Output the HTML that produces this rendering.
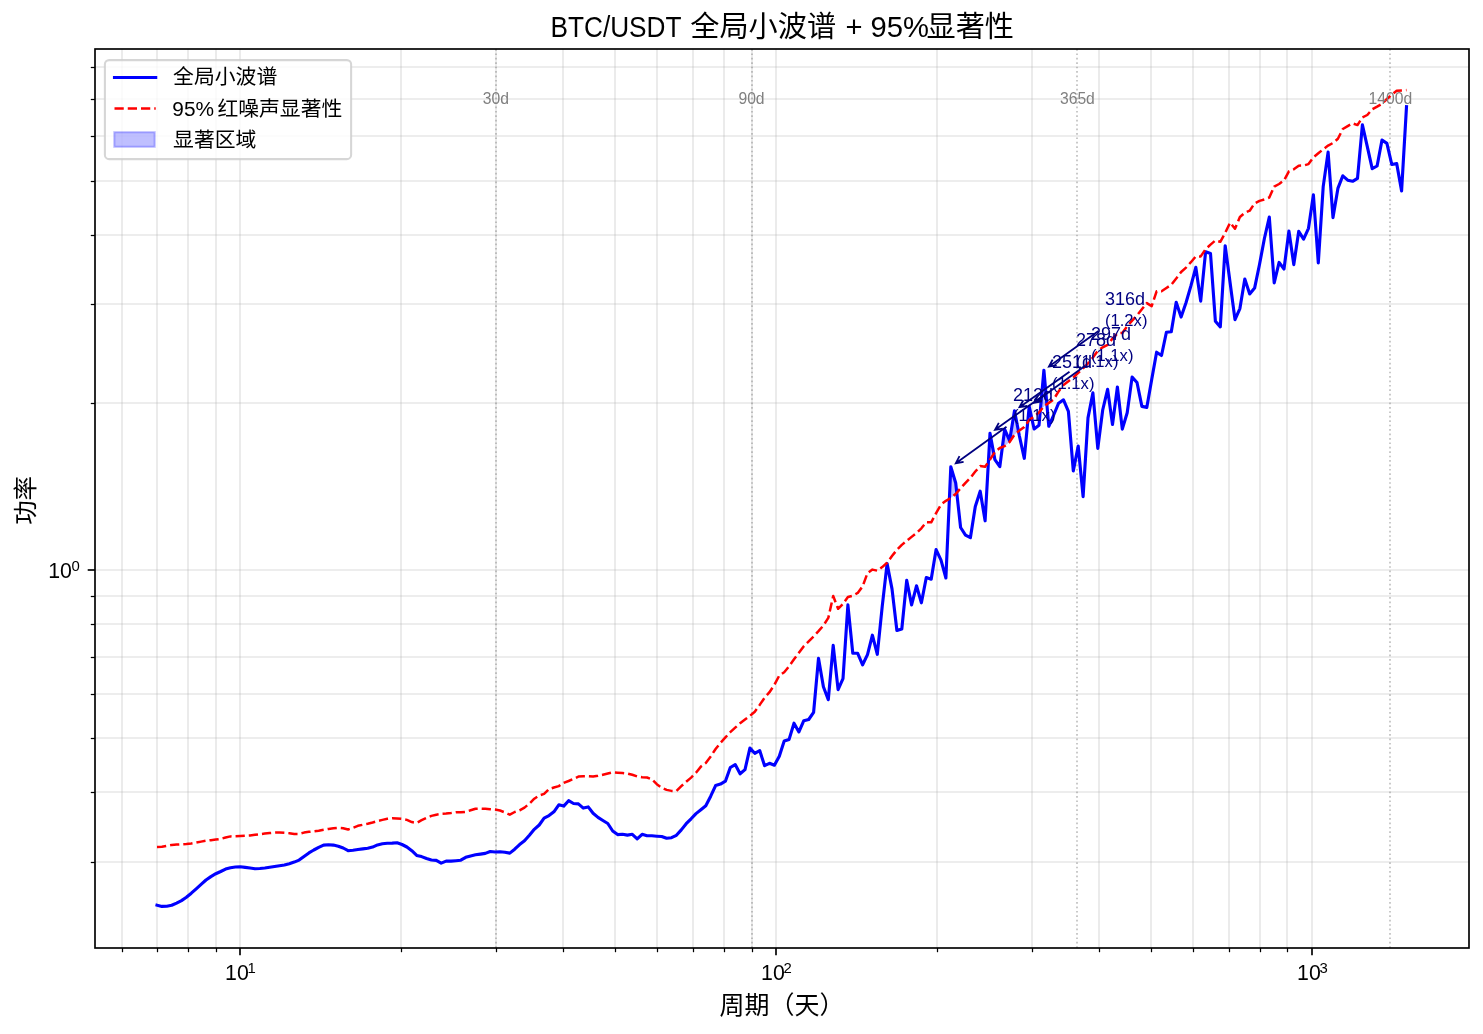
<!DOCTYPE html>
<html lang="zh-CN"><head><meta charset="utf-8"><title>BTC/USDT 全局小波谱 + 95%显著性</title>
<style>
html,body{margin:0;padding:0;background:#fff;}
body{width:1483px;height:1034px;overflow:hidden;}
svg{display:block;will-change:transform;}
text{font-family:"Liberation Sans", "Noto Sans CJK SC", sans-serif;fill:#000;}
.grid line{stroke:#b0b0b0;stroke-opacity:0.3;stroke-width:1.67;}
.vl line{stroke:#808080;stroke-opacity:0.5;stroke-width:1.67;stroke-dasharray:1.67 2.75;}
.tk line{stroke:#000;}
.ann text{fill:#000080;font-size:18px;}
.ann path{stroke:#000080;stroke-width:1.8;fill:none;stroke-linecap:butt;stroke-linejoin:miter;}
.pl text{fill:#808080;font-size:15.7px;text-anchor:middle;}
</style></head><body>
<svg width="1483" height="1034" viewBox="0 0 1483 1034">
<rect x="0" y="0" width="1483" height="1034" fill="#fff"/>

<g class="grid">
<line x1="240.0" y1="49.0" x2="240.0" y2="948.0"/>
<line x1="776.0" y1="49.0" x2="776.0" y2="948.0"/>
<line x1="1312.0" y1="49.0" x2="1312.0" y2="948.0"/>
<line x1="122.0" y1="49.0" x2="122.0" y2="948.0"/>
<line x1="157.0" y1="49.0" x2="157.0" y2="948.0"/>
<line x1="188.0" y1="49.0" x2="188.0" y2="948.0"/>
<line x1="216.0" y1="49.0" x2="216.0" y2="948.0"/>
<line x1="401.0" y1="49.0" x2="401.0" y2="948.0"/>
<line x1="496.0" y1="49.0" x2="496.0" y2="948.0"/>
<line x1="563.0" y1="49.0" x2="563.0" y2="948.0"/>
<line x1="615.0" y1="49.0" x2="615.0" y2="948.0"/>
<line x1="657.0" y1="49.0" x2="657.0" y2="948.0"/>
<line x1="693.0" y1="49.0" x2="693.0" y2="948.0"/>
<line x1="724.0" y1="49.0" x2="724.0" y2="948.0"/>
<line x1="752.0" y1="49.0" x2="752.0" y2="948.0"/>
<line x1="937.0" y1="49.0" x2="937.0" y2="948.0"/>
<line x1="1032.0" y1="49.0" x2="1032.0" y2="948.0"/>
<line x1="1099.0" y1="49.0" x2="1099.0" y2="948.0"/>
<line x1="1151.0" y1="49.0" x2="1151.0" y2="948.0"/>
<line x1="1193.0" y1="49.0" x2="1193.0" y2="948.0"/>
<line x1="1229.0" y1="49.0" x2="1229.0" y2="948.0"/>
<line x1="1260.0" y1="49.0" x2="1260.0" y2="948.0"/>
<line x1="1287.0" y1="49.0" x2="1287.0" y2="948.0"/>
<line x1="95.0" y1="570.0" x2="1469.0" y2="570.0"/>
<line x1="95.0" y1="862.0" x2="1469.0" y2="862.0"/>
<line x1="95.0" y1="792.0" x2="1469.0" y2="792.0"/>
<line x1="95.0" y1="738.0" x2="1469.0" y2="738.0"/>
<line x1="95.0" y1="694.0" x2="1469.0" y2="694.0"/>
<line x1="95.0" y1="657.0" x2="1469.0" y2="657.0"/>
<line x1="95.0" y1="624.0" x2="1469.0" y2="624.0"/>
<line x1="95.0" y1="596.0" x2="1469.0" y2="596.0"/>
<line x1="95.0" y1="403.0" x2="1469.0" y2="403.0"/>
<line x1="95.0" y1="304.0" x2="1469.0" y2="304.0"/>
<line x1="95.0" y1="235.0" x2="1469.0" y2="235.0"/>
<line x1="95.0" y1="181.0" x2="1469.0" y2="181.0"/>
<line x1="95.0" y1="136.0" x2="1469.0" y2="136.0"/>
<line x1="95.0" y1="99.0" x2="1469.0" y2="99.0"/>
<line x1="95.0" y1="67.0" x2="1469.0" y2="67.0"/>
</g>
<g class="vl">
<line x1="496.0" y1="49.0" x2="496.0" y2="948.0"/>
<line x1="752.0" y1="49.0" x2="752.0" y2="948.0"/>
<line x1="1077.0" y1="49.0" x2="1077.0" y2="948.0"/>
<line x1="1390.0" y1="49.0" x2="1390.0" y2="948.0"/>
</g>
<g fill="#0000ff" fill-opacity="0.25" stroke="none">
<polygon points="949.4,498.8 950.8,466.8 950.8,498.0"/>
<polygon points="950.8,466.8 955.7,483.0 955.7,494.0 950.8,498.0"/>
<polygon points="955.7,483.0 956.8,492.8 955.7,494.0"/>
<polygon points="988.4,461.9 990.0,433.4 990.0,459.6"/>
<polygon points="990.0,433.4 993.8,453.6 990.0,459.6"/>
<polygon points="1002.4,447.0 1004.7,429.3 1004.7,446.1"/>
<polygon points="1004.7,429.3 1009.6,440.7 1009.6,442.0 1004.7,446.1"/>
<polygon points="1009.6,440.7 1014.5,410.8 1014.5,434.6 1009.6,442.0"/>
<polygon points="1014.5,410.8 1018.5,431.3 1014.5,434.6"/>
<polygon points="1027.7,422.2 1029.2,406.3 1029.2,420.1"/>
<polygon points="1029.2,406.3 1031.8,418.2 1029.2,420.1"/>
<polygon points="1040.3,410.9 1043.9,370.2 1043.9,406.3"/>
<polygon points="1043.9,370.2 1046.9,404.2 1043.9,406.3"/>
</g>
<polyline fill="none" stroke="#0000ff" stroke-width="3.125" stroke-linejoin="round" stroke-linecap="square" points="157.0,905.2 161.9,906.4 166.8,906.2 171.7,905.3 176.6,903.1 181.5,900.6 186.4,897.3 191.3,893.2 196.2,888.8 201.1,884.4 206.0,880.0 210.9,876.6 215.8,873.7 220.7,871.5 225.6,869.1 230.5,867.7 235.4,867.0 240.3,866.8 245.2,867.4 250.1,868.0 255.0,868.7 259.9,868.5 264.8,868.0 269.7,867.3 274.6,866.5 279.5,865.8 284.4,865.0 289.3,863.7 294.2,862.1 299.1,860.1 304.0,856.4 308.9,852.9 313.8,850.0 318.7,847.4 323.6,845.1 328.5,844.7 333.4,845.1 338.3,846.2 343.2,848.0 348.1,850.7 353.0,850.3 357.9,849.5 362.8,848.9 367.7,848.3 372.6,847.1 377.5,844.9 382.4,843.7 387.3,843.2 392.2,843.1 397.1,842.8 402.0,844.5 406.9,847.0 411.8,850.7 416.7,855.4 421.6,856.6 426.5,858.5 431.4,860.0 436.3,860.4 441.2,863.1 446.1,861.1 451.0,861.1 455.9,860.7 460.8,860.2 465.7,857.3 470.6,855.9 475.5,854.8 480.4,854.1 485.3,853.4 490.2,851.5 495.1,852.0 500.0,851.8 504.9,852.3 509.8,853.1 514.7,849.2 519.6,844.6 524.5,840.8 529.4,835.2 534.3,829.3 539.2,825.0 544.1,818.1 549.0,815.6 553.9,811.8 558.8,804.8 563.7,806.1 568.6,800.7 573.5,803.5 578.4,803.9 583.3,808.1 588.2,806.9 593.1,813.3 598.0,817.4 602.9,820.5 607.8,823.5 612.7,831.0 617.6,834.6 622.5,834.3 627.4,835.1 632.3,834.3 637.2,838.9 642.1,834.3 647.0,835.8 651.9,835.8 656.8,836.2 661.7,836.5 666.6,838.3 671.5,837.7 676.4,835.3 681.3,829.9 686.2,823.7 691.1,818.8 696.0,813.6 700.9,809.7 705.8,805.8 710.7,796.2 715.6,785.6 720.5,784.1 725.4,781.2 730.3,767.5 735.2,764.6 740.1,773.8 745.0,769.6 749.9,748.1 754.8,753.3 759.7,750.6 764.6,765.7 769.5,763.3 774.4,765.2 779.3,756.3 784.2,741.1 789.1,739.4 794.0,723.2 798.9,731.9 803.8,720.7 808.7,719.5 813.6,712.3 818.5,658.3 823.4,686.7 828.3,699.7 833.2,645.3 838.1,689.6 843.0,678.7 847.9,604.9 852.8,653.3 857.7,653.3 862.6,664.8 867.5,654.6 872.4,635.2 877.3,654.3 882.2,606.6 887.1,563.6 892.0,588.9 896.9,630.5 901.8,629.0 906.7,580.4 911.6,604.9 916.5,585.8 921.4,602.8 926.3,577.5 931.2,579.2 936.1,549.6 941.0,560.2 945.9,578.0 950.8,466.8 955.7,483.0 960.6,527.5 965.5,535.1 970.4,537.7 975.3,506.4 980.2,491.2 985.1,520.8 990.0,433.4 994.9,459.6 999.8,466.7 1004.7,429.3 1009.6,440.7 1014.5,410.8 1019.4,436.0 1024.3,458.3 1029.2,406.3 1034.1,429.0 1039.0,425.3 1043.9,370.2 1048.8,426.3 1053.7,415.0 1058.6,403.2 1063.5,399.8 1068.4,411.4 1073.3,470.9 1078.2,446.0 1083.1,496.7 1088.0,417.9 1092.9,392.8 1097.8,448.4 1102.7,410.0 1107.6,389.3 1112.5,424.5 1117.4,387.0 1122.3,429.1 1127.2,412.7 1132.1,377.1 1137.0,382.5 1141.9,406.4 1146.8,407.4 1151.7,379.4 1156.6,352.2 1161.5,355.5 1166.4,332.2 1171.3,331.7 1176.2,302.3 1181.1,317.1 1186.0,302.7 1190.9,285.9 1195.8,267.3 1200.7,301.1 1205.6,251.8 1210.5,253.5 1215.4,321.3 1220.3,326.9 1225.2,245.7 1230.1,282.7 1235.0,319.6 1239.9,308.6 1244.8,279.1 1249.7,294.0 1254.6,288.1 1259.5,264.5 1264.4,238.5 1269.3,217.1 1274.2,282.9 1279.1,262.4 1284.0,269.0 1288.9,231.1 1293.8,264.6 1298.7,231.4 1303.6,239.2 1308.5,228.3 1313.4,194.8 1318.3,263.0 1323.2,186.6 1328.1,152.1 1333.0,217.6 1337.9,188.4 1342.8,175.8 1347.7,180.2 1352.6,181.3 1357.5,178.3 1362.4,124.9 1367.3,146.7 1372.2,168.7 1377.1,166.0 1382.0,140.0 1386.9,143.4 1391.8,164.5 1396.7,163.6 1401.6,190.9 1406.5,106.6"/>
<polyline fill="none" stroke="#ff0000" stroke-width="2.5" stroke-linejoin="round" stroke-dasharray="9.25 4" points="157.0,846.9 161.9,846.8 166.8,845.9 171.7,844.9 176.6,844.6 181.5,844.3 186.4,844.0 191.3,843.5 196.2,842.6 201.1,841.6 206.0,840.7 210.9,840.2 215.8,839.6 220.7,838.9 225.6,837.5 230.5,836.4 235.4,836.2 240.3,836.0 245.2,835.7 250.1,835.4 255.0,834.8 259.9,834.2 264.8,833.6 269.7,833.1 274.6,832.6 279.5,832.4 284.4,832.8 289.3,833.2 294.2,833.9 299.1,833.9 304.0,832.6 308.9,831.8 313.8,831.3 318.7,830.7 323.6,829.8 328.5,828.9 333.4,828.3 338.3,827.8 343.2,828.2 348.1,829.5 353.0,827.8 357.9,825.8 362.8,824.8 367.7,823.8 372.6,822.5 377.5,821.0 382.4,819.9 387.3,818.8 392.2,818.3 397.1,818.4 402.0,818.9 406.9,819.9 411.8,822.1 416.7,822.9 421.6,820.2 426.5,817.9 431.4,815.9 436.3,814.7 441.2,813.9 446.1,813.6 451.0,813.0 455.9,812.2 460.8,812.3 465.7,811.9 470.6,810.3 475.5,808.7 480.4,808.6 485.3,808.8 490.2,809.2 495.1,809.6 500.0,810.5 504.9,812.4 509.8,814.7 514.7,812.0 519.6,810.4 524.5,807.6 529.4,803.6 534.3,798.7 539.2,795.5 544.1,793.9 549.0,789.1 553.9,787.5 558.8,786.1 563.7,782.8 568.6,781.0 573.5,778.9 578.4,776.6 583.3,776.3 588.2,776.3 593.1,776.6 598.0,775.8 602.9,774.7 607.8,773.5 612.7,772.4 617.6,772.7 622.5,773.0 627.4,773.6 632.3,774.8 637.2,776.4 642.1,777.2 647.0,777.5 651.9,779.3 656.8,784.2 661.7,787.7 666.6,789.9 671.5,790.9 676.4,791.1 681.3,786.2 686.2,781.7 691.1,777.6 696.0,772.7 700.9,766.6 705.8,763.0 710.7,756.5 715.6,749.0 720.5,742.8 725.4,737.4 730.3,732.2 735.2,727.7 740.1,723.3 745.0,719.6 749.9,715.9 754.8,711.7 759.7,704.9 764.6,697.7 769.5,692.2 774.4,684.8 779.3,675.5 784.2,672.2 789.1,666.2 794.0,659.3 798.9,652.8 803.8,646.2 808.7,641.3 813.6,636.4 818.5,631.1 823.4,625.5 828.3,617.9 833.2,596.0 838.1,608.8 843.0,603.9 847.9,597.0 852.8,595.7 857.7,592.9 862.6,586.4 867.5,573.1 872.4,569.6 877.3,570.7 882.2,567.1 887.1,562.8 892.0,556.1 896.9,549.8 901.8,544.9 906.7,540.9 911.6,536.9 916.5,532.9 921.4,528.3 926.3,522.2 931.2,522.3 936.1,513.1 941.0,504.6 945.9,500.8 950.8,498.0 955.7,494.0 960.6,488.3 965.5,482.8 970.4,477.9 975.3,471.5 980.2,466.1 985.1,466.7 990.0,459.6 994.9,451.9 999.8,448.0 1004.7,446.1 1009.6,442.0 1014.5,434.6 1019.4,430.6 1024.3,426.9 1029.2,420.1 1034.1,416.4 1039.0,412.5 1043.9,406.3 1048.8,402.9 1053.7,399.4 1058.6,391.4 1063.5,384.9 1068.4,381.3 1073.3,377.5 1078.2,372.9 1083.1,368.3 1088.0,363.3 1092.9,357.5 1097.8,350.7 1102.7,347.3 1107.6,344.9 1112.5,338.6 1117.4,333.4 1122.3,332.9 1127.2,326.2 1132.1,320.6 1137.0,315.4 1141.9,309.2 1146.8,303.1 1151.7,306.1 1156.6,291.3 1161.5,291.3 1166.4,288.0 1171.3,284.7 1176.2,278.5 1181.1,272.0 1186.0,267.6 1190.9,262.2 1195.8,256.4 1200.7,256.4 1205.6,249.2 1210.5,244.6 1215.4,240.4 1220.3,241.8 1225.2,232.9 1230.1,222.6 1235.0,228.8 1239.9,217.0 1244.8,212.8 1249.7,210.7 1254.6,203.4 1259.5,200.9 1264.4,199.4 1269.3,197.5 1274.2,186.6 1279.1,184.0 1284.0,180.4 1288.9,171.4 1293.8,169.3 1298.7,165.7 1303.6,165.5 1308.5,164.1 1313.4,157.4 1318.3,153.3 1323.2,149.3 1328.1,145.6 1333.0,143.0 1337.9,138.8 1342.8,129.0 1347.7,126.1 1352.6,123.3 1357.5,125.1 1362.4,117.4 1367.3,115.0 1372.2,109.3 1377.1,106.7 1382.0,103.8 1386.9,99.0 1391.8,94.7 1396.7,90.8 1401.6,90.4 1406.5,90.1"/>
<g class="pl">
<text x="495.8" y="103.9">30d</text>
<text x="751.5" y="103.9">90d</text>
<text x="1077.4" y="103.9">365d</text>
<text x="1390.3" y="103.9">1400d</text>
</g>
<g class="ann">
<path d="M1006.5,426.7 L955.8,463.2 M963.6,461.9 L955.8,463.2 L959.5,456.2"/>
<text x="1013" y="401">212d</text><text x="1013" y="421" style="font-size:16.6px">(1.1x)</text>
<path d="M1045.5,393.9 L995.0,429.8 M1002.8,428.6 L995.0,429.8 L998.8,422.9"/>
<text x="1052" y="368">251d</text><text x="1052" y="389" style="font-size:16.6px">(1.1x)</text>
<path d="M1069.5,371.8 L1019.5,407.2 M1027.3,406.0 L1019.5,407.2 L1023.3,400.3"/>
<text x="1076" y="346">278d</text><text x="1076" y="367" style="font-size:16.6px">(1.1x)</text>
<path d="M1084.5,366.3 L1034.2,402.7 M1042.0,401.4 L1034.2,402.7 L1037.9,395.7"/>
<text x="1091" y="340">297d</text><text x="1091" y="361" style="font-size:16.6px">(1.1x)</text>
<path d="M1098.5,330.9 L1048.9,366.6 M1056.7,365.3 L1048.9,366.6 L1052.6,359.6"/>
<text x="1105" y="305">316d</text><text x="1105" y="325.5" style="font-size:16.6px">(1.2x)</text>
</g>
<rect x="95.0" y="49.0" width="1374.0" height="899.0" fill="none" stroke="#000" stroke-width="1.67"/>
<g class="tk">
<line x1="240.0" y1="948.0" x2="240.0" y2="955.3" stroke-width="1.67"/>
<line x1="776.0" y1="948.0" x2="776.0" y2="955.3" stroke-width="1.67"/>
<line x1="1312.0" y1="948.0" x2="1312.0" y2="955.3" stroke-width="1.67"/>
<line x1="122.5" y1="948.0" x2="122.5" y2="952.2" stroke-width="1.25"/>
<line x1="157.5" y1="948.0" x2="157.5" y2="952.2" stroke-width="1.25"/>
<line x1="188.5" y1="948.0" x2="188.5" y2="952.2" stroke-width="1.25"/>
<line x1="216.5" y1="948.0" x2="216.5" y2="952.2" stroke-width="1.25"/>
<line x1="401.5" y1="948.0" x2="401.5" y2="952.2" stroke-width="1.25"/>
<line x1="496.5" y1="948.0" x2="496.5" y2="952.2" stroke-width="1.25"/>
<line x1="563.5" y1="948.0" x2="563.5" y2="952.2" stroke-width="1.25"/>
<line x1="615.5" y1="948.0" x2="615.5" y2="952.2" stroke-width="1.25"/>
<line x1="657.5" y1="948.0" x2="657.5" y2="952.2" stroke-width="1.25"/>
<line x1="693.5" y1="948.0" x2="693.5" y2="952.2" stroke-width="1.25"/>
<line x1="724.5" y1="948.0" x2="724.5" y2="952.2" stroke-width="1.25"/>
<line x1="752.5" y1="948.0" x2="752.5" y2="952.2" stroke-width="1.25"/>
<line x1="937.5" y1="948.0" x2="937.5" y2="952.2" stroke-width="1.25"/>
<line x1="1032.5" y1="948.0" x2="1032.5" y2="952.2" stroke-width="1.25"/>
<line x1="1099.5" y1="948.0" x2="1099.5" y2="952.2" stroke-width="1.25"/>
<line x1="1151.5" y1="948.0" x2="1151.5" y2="952.2" stroke-width="1.25"/>
<line x1="1193.5" y1="948.0" x2="1193.5" y2="952.2" stroke-width="1.25"/>
<line x1="1229.5" y1="948.0" x2="1229.5" y2="952.2" stroke-width="1.25"/>
<line x1="1260.5" y1="948.0" x2="1260.5" y2="952.2" stroke-width="1.25"/>
<line x1="1287.5" y1="948.0" x2="1287.5" y2="952.2" stroke-width="1.25"/>
<line x1="95.0" y1="570.0" x2="87.7" y2="570.0" stroke-width="1.67"/>
<line x1="95.0" y1="862.5" x2="90.8" y2="862.5" stroke-width="1.25"/>
<line x1="95.0" y1="792.5" x2="90.8" y2="792.5" stroke-width="1.25"/>
<line x1="95.0" y1="738.5" x2="90.8" y2="738.5" stroke-width="1.25"/>
<line x1="95.0" y1="694.5" x2="90.8" y2="694.5" stroke-width="1.25"/>
<line x1="95.0" y1="657.5" x2="90.8" y2="657.5" stroke-width="1.25"/>
<line x1="95.0" y1="624.5" x2="90.8" y2="624.5" stroke-width="1.25"/>
<line x1="95.0" y1="596.5" x2="90.8" y2="596.5" stroke-width="1.25"/>
<line x1="95.0" y1="403.5" x2="90.8" y2="403.5" stroke-width="1.25"/>
<line x1="95.0" y1="304.5" x2="90.8" y2="304.5" stroke-width="1.25"/>
<line x1="95.0" y1="235.5" x2="90.8" y2="235.5" stroke-width="1.25"/>
<line x1="95.0" y1="181.5" x2="90.8" y2="181.5" stroke-width="1.25"/>
<line x1="95.0" y1="136.5" x2="90.8" y2="136.5" stroke-width="1.25"/>
<line x1="95.0" y1="99.5" x2="90.8" y2="99.5" stroke-width="1.25"/>
<line x1="95.0" y1="67.5" x2="90.8" y2="67.5" stroke-width="1.25"/>
</g>
<text x="225.1" y="979.9" font-size="21.3px">10<tspan dx="-1.3" dy="-7.3" font-size="14.9px">1</tspan></text>
<text x="761.1" y="979.9" font-size="21.3px">10<tspan dx="-1.3" dy="-7.3" font-size="14.9px">2</tspan></text>
<text x="1297.1" y="979.9" font-size="21.3px">10<tspan dx="-1.3" dy="-7.3" font-size="14.9px">3</tspan></text>
<text x="48.2" y="577.8" font-size="21.3px">10<tspan dx="-0.3" dy="-7.3" font-size="14.9px">0</tspan></text>
<text x="782" y="1013.5" font-size="25px" text-anchor="middle">周期（天）</text>
<text transform="translate(34.0,500.4) rotate(-90)" font-size="24.4px" text-anchor="middle">功率</text>
<text y="37.1" font-size="29.17px"><tspan x="550.5" textLength="131" lengthAdjust="spacingAndGlyphs">BTC/USDT</tspan><tspan x="690.3">全局小波谱</tspan><tspan x="845.5">+</tspan><tspan x="870.5">95%</tspan><tspan x="926.5">显著性</tspan></text>
<rect x="104.9" y="60.1" width="246.2" height="99" rx="4.2" ry="4.2" fill="#fff" fill-opacity="0.8" stroke="#ccc" stroke-opacity="0.8" stroke-width="2.08"/>
<line x1="114.5" y1="77.5" x2="155.7" y2="77.5" stroke="#0000ff" stroke-width="3.125" stroke-linecap="square"/>
<line x1="114.5" y1="108.6" x2="155.7" y2="108.6" stroke="#ff0000" stroke-width="2.5" stroke-dasharray="9.25 4"/>
<rect x="114.3" y="132.2" width="40.4" height="14.58" fill="#0000ff" fill-opacity="0.25" stroke="#0000ff" stroke-opacity="0.25" stroke-width="2.08"/>
<text x="173.1" y="84.1" font-size="20.83px">全局小波谱</text>
<text x="172.3" y="116" font-size="20.83px">95% <tspan x="217.4">红噪声显著性</tspan></text>
<text x="173.1" y="147.1" font-size="20.83px">显著区域</text>
</svg></body></html>
